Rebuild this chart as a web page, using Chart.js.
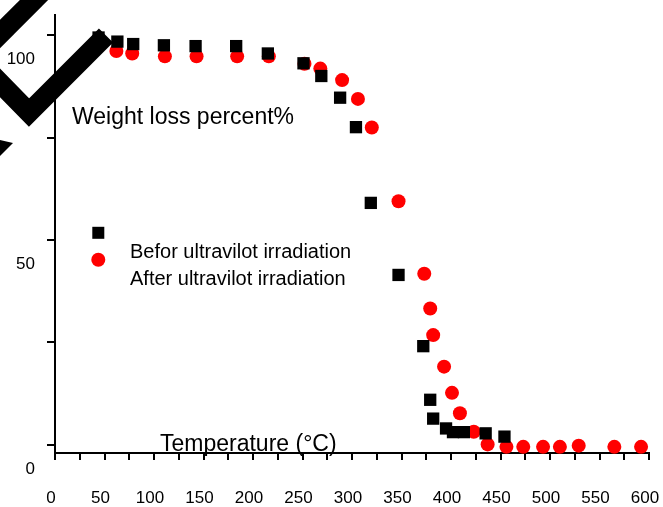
<!DOCTYPE html>
<html>
<head>
<meta charset="utf-8">
<script src="https://cdn.jsdelivr.net/npm/chart.js@4/dist/chart.umd.min.js"></script>
<style>
html, body { margin: 0; padding: 0; background: #fff; }
#wrap { width: 663px; height: 507px; }
</style>
</head>
<body>
<div id="wrap"><canvas id="c" width="663" height="507"></canvas></div>
<script>
// Thermogravimetric curves: residual weight (%) against temperature (°C)
const beforeTemp   = [44, 63, 79, 110, 142, 183, 215, 251, 269, 288, 304, 319, 347, 372, 379, 382, 395, 402, 413, 435, 454];
const beforeWeight = [99.5, 98.5, 97.9, 97.6, 97.4, 97.4, 95.6, 93.2, 90.1, 84.8, 77.6, 59.1, 41.5, 24.1, 11.0, 6.4, 4.0, 3.1, 3.1, 2.8, 2.0];
const afterTemp    = [62, 78, 111, 143, 184, 216, 252, 268, 290, 306, 320, 347, 373, 379, 382, 393, 401, 409, 423, 437, 456, 473, 493, 510, 529, 565, 592];
const afterWeight  = [96.2, 95.6, 94.9, 94.9, 94.9, 94.9, 93.1, 91.9, 89.1, 84.5, 77.5, 59.5, 41.8, 33.3, 26.8, 19.1, 12.7, 7.7, 3.2, 0.1, -0.5, -0.5, -0.5, -0.5, -0.2, -0.5, -0.5];

const yTicks = [0, 25, 50, 75, 100];
const yLabelled = [0, 50, 100];
const xTickStep = 25;
const xLabelStep = 50;

const seriesNames = ['Befor ultravilot irradiation', 'After ultravilot irradiation'];
const yAxisTitle = 'Weight loss percent%';
const xAxisTitle = 'Temperature (°C)';

const FONT = '"Liberation Sans", Arial, Helvetica, sans-serif';

function pairs(xs, ys) { return xs.map((x, i) => ({ x: x, y: ys[i] })); }

// Free-standing texts, legend and the heavy strokes in the upper-left corner
const decor = {
  id: 'decor',
  afterDraw(chart) {
    const ctx = chart.ctx;
    ctx.save();
    ctx.fillStyle = '#000';
    ctx.textBaseline = 'alphabetic';
    ctx.textAlign = 'left';

    ctx.font = '23px ' + FONT;
    ctx.fillText(yAxisTitle, 72, 124);
    ctx.fillText(xAxisTitle, 160, 451);

    // legend
    ctx.fillStyle = '#000';
    ctx.fillRect(92.3, 226.8, 12, 12);
    ctx.fillStyle = '#ff0000';
    ctx.beginPath();
    ctx.arc(98.3, 259.8, 7, 0, Math.PI * 2);
    ctx.fill();
    ctx.fillStyle = '#000';
    ctx.font = '20px ' + FONT;
    ctx.fillText(seriesNames[0], 130, 257.5);
    ctx.fillText(seriesNames[1], 130, 284.5);

    // heavy black strokes
    ctx.strokeStyle = '#000';
    ctx.lineWidth = 20;
    ctx.lineCap = 'butt';
    ctx.lineJoin = 'miter';
    ctx.beginPath();
    ctx.moveTo(-20, 62.5);
    ctx.lineTo(29, 112.5);
    ctx.lineTo(106, 35.5);
    ctx.stroke();
    ctx.beginPath();
    ctx.moveTo(-10, 44);
    ctx.lineTo(44, -10);
    ctx.stroke();
    ctx.beginPath();
    ctx.moveTo(0, 140);
    ctx.lineTo(13, 143);
    ctx.lineTo(0, 156);
    ctx.closePath();
    ctx.fill();
    ctx.restore();
  }
};

new Chart(document.getElementById('c'), {
  type: 'scatter',
  data: {
    datasets: [
      {
        label: seriesNames[0],
        data: pairs(beforeTemp, beforeWeight),
        pointStyle: 'rect',
        pointRadius: 8.7,
        backgroundColor: '#000',
        borderWidth: 0,
        clip: false
      },
      {
        label: seriesNames[1],
        data: pairs(afterTemp, afterWeight),
        pointStyle: 'circle',
        pointRadius: 7,
        backgroundColor: '#ff0000',
        borderWidth: 0,
        clip: false
      }
    ]
  },
  options: {
    responsive: false,
    animation: false,
    events: [],
    layout: { padding: { top: 15, right: 14, left: 0, bottom: 0 } },
    plugins: { legend: { display: false }, tooltip: { enabled: false } },
    scales: {
      x: {
        type: 'linear',
        min: 0,
        max: 600,
        afterFit(scale) {
          scale.height = 54;
          scale.paddingLeft = 0;
          scale.paddingRight = 0;
        },
        grid: { drawOnChartArea: false, drawTicks: true, tickLength: 7, color: '#000', lineWidth: 2 },
        border: { color: '#000', width: 2 },
        ticks: {
          stepSize: xTickStep,
          autoSkip: false,
          maxRotation: 0,
          padding: 28,
          labelOffset: -4,
          color: '#000',
          font: { family: FONT, size: 17 },
          callback: (v) => (v % xLabelStep === 0 ? String(v) : '')
        }
      },
      y: {
        type: 'linear',
        min: -2,
        max: 105,
        afterFit(scale) {
          scale.width = 55;
          scale.paddingTop = 0;
          scale.paddingBottom = 0;
        },
        afterBuildTicks(scale) { scale.ticks = yTicks.map((v) => ({ value: v })); },
        grid: { drawOnChartArea: false, drawTicks: true, tickLength: 8, color: '#000', lineWidth: 2 },
        border: { color: '#000', width: 2 },
        ticks: {
          autoSkip: false,
          padding: 12,
          labelOffset: 24,
          color: '#000',
          font: { family: FONT, size: 17 },
          callback: (v) => (yLabelled.includes(v) ? String(v) : '')
        }
      }
    }
  },
  plugins: [decor]
});
</script>
</body>
</html>
